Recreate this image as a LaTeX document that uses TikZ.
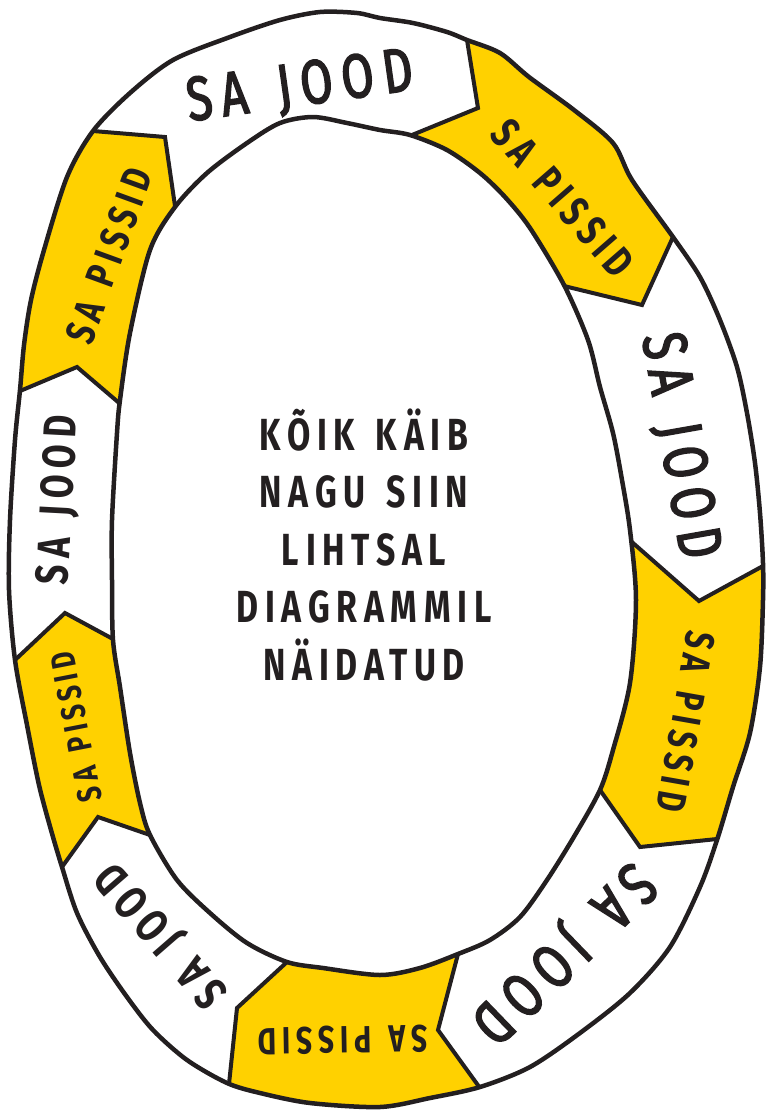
\documentclass[tikz,border=0pt]{standalone}
\usepackage{fontspec}
\newfontfamily\handfont{Fira Sans}[FakeStretch=0.75, LetterSpace=15, WordSpace=1.4]
\newfontfamily\handfontthick{Fira Sans}[FakeStretch=0.75, LetterSpace=15, WordSpace=1.4, FakeBold=2.5]
\usetikzlibrary{calc}
\definecolor{pissyellow}{RGB}{255,209,0}
\definecolor{inkblack}{RGB}{35,31,32}

\begin{document}
\begin{tikzpicture}[
  x=1pt, y=-1pt,
  outline/.style={draw=inkblack, line width=4.5pt, line join=round},
  cut/.style={draw=inkblack, line width=4pt, line join=miter},
  ringlabel/.style 2 args={font=#2\fontsize{#1}{#1}\selectfont,
    text=inkblack, inner sep=0pt},
  centreline/.style={font=\handfont\bfseries\fontsize{45}{45}\selectfont,
    text=inkblack, inner sep=0pt, anchor=base}
]
  \useasboundingbox (0,0) rectangle (766,1112);

  % Ring edges
  \def\outerring{plot[smooth cycle, tension=0.5] coordinates {
    (320,12) (357,13) (380,18) (413,23) (447,32) (467,40) (500,53)
    (529,77) (574,110) (613,143) (632,180) (673,237) (700,277) (720,320)
    (737,367) (747,413) (755,463) (760,513) (763,563) (763,600) (760,667)
    (750,733) (733,787) (717,840) (700,887) (670,947) (630,993) (580,1033)
    (530,1067) (480,1087) (430,1098) (380,1107) (310,1103) (260,1093)
    (227,1083) (187,1060) (153,1030) (127,997) (100,957) (77,913) (62,867)
    (51,830) (39,785) (27,725) (15,660) (9,590) (10,520) (15,440) (20,390)
    (24,345) (31,300) (44,250) (67,177) (93,131) (130,93) (173,60) (230,37)
    (280,20)}}
  \def\innerring{plot[smooth cycle, tension=0.5] coordinates {
    (280,123) (313,117) (347,123) (380,130) (410,135) (447,150) (480,173)
    (505,197) (530,228) (564,285) (588,340) (600,387) (613,433) (622,480)
    (630,530) (636,600) (630,683) (613,750) (600,790) (575,835) (547,880)
    (520,917) (490,940) (458,954) (420,968) (380,975) (323,968) (287,962)
    (247,943) (210,913) (177,880) (150,835) (140,803) (130,753) (120,687)
    (113,640) (112,580) (112,520) (117,433) (120,400) (130,333) (150,250)
    (175,207) (207,173) (247,143)}}

  % Chevron cuts: outer end, tip, inner end
  \coordinate (o1) at (93,131);   \coordinate (t1) at (165,137);  \coordinate (i1) at (175,206);
  \coordinate (o2) at (467,40);   \coordinate (t2) at (478,108);  \coordinate (i2) at (412,135);
  \coordinate (o3) at (673,237);  \coordinate (t3) at (642,305);  \coordinate (i3) at (564,286);
  \coordinate (o4) at (763,566);  \coordinate (t4) at (699,601);  \coordinate (i4) at (633,543);
  \coordinate (o5) at (717,839);  \coordinate (t5) at (640,847);  \coordinate (i5) at (600,790);
  \coordinate (o6) at (480,1088); \coordinate (t6) at (438,1030); \coordinate (i6) at (458,954);
  \coordinate (o7) at (229,1084); \coordinate (t7) at (237,1008); \coordinate (i7) at (287,962);
  \coordinate (o8) at (62,867);   \coordinate (t8) at (98,817);   \coordinate (i8) at (150,835);
  \coordinate (o9) at (15,660);   \coordinate (t9) at (65,613);   \coordinate (i9) at (113,639);
  \coordinate (o10) at (20,391);  \coordinate (t10) at (77,367);  \coordinate (i10) at (118,402);
  \foreach \i in {1,...,10} {
    \coordinate (ox\i) at ($(t\i)!3!(o\i)$);
    \coordinate (ix\i) at ($(t\i)!1.8!(i\i)$);
  }

  \begin{scope}[even odd rule]
    \clip \outerring \innerring;
    \fill[white] (0,0) rectangle (766,1112);
    % Yellow segments
    \fill[pissyellow] (ox2) -- (t2) -- (ix2) -- (ix3) -- (t3) -- (ox3) -- (900,-200) -- cycle;
    \fill[pissyellow] (ox4) -- (t4) -- (ix4) -- (ix5) -- (t5) -- (ox5) -- (1000,650) -- cycle;
    \fill[pissyellow] (ox6) -- (t6) -- (ix6) -- (ix7) -- (t7) -- (ox7) -- (380,1400) -- cycle;
    \fill[pissyellow] (ox8) -- (t8) -- (ix8) -- (ix9) -- (t9) -- (ox9) -- (-200,800) -- cycle;
    \fill[pissyellow] (ox10) -- (t10) -- (ix10) -- (ix1) -- (t1) -- (ox1) -- (-200,250) -- cycle;
    \foreach \i in {1,...,10}
      \draw[cut] (ox\i) -- (t\i) -- (ix\i);
  \end{scope}

  \draw[outline] \outerring;
  \draw[outline] \innerring;

  % Ring labels
  \node[ringlabel={62}{\handfontthick}, rotate=8]      (jood1)   at (300,88)   {SA JOOD};
  \node[ringlabel={43}{\handfont\bfseries}, rotate=-49]  (pissid1) at (563,198)  {SA PISSID};
  \node[ringlabel={62}{\handfontthick}, rotate=-80]    (jood2)   at (679,446)  {SA JOOD};
  \node[ringlabel={41}{\handfont\bfseries}, rotate=-100] (pissid2) at (686,722)  {SA PISSID};
  \node[ringlabel={62}{\handfontthick}, rotate=-136]   (jood3)   at (562,952)  {SA JOOD};
  \node[ringlabel={38}{\handfont\bfseries}, rotate=181]  (pissid3) at (343,1040) {SA PISSID};
  \node[ringlabel={47}{\handfont\bfseries}, rotate=131]  (jood4)   at (163,934)  {SA JOOD};
  \node[ringlabel={34}{\handfont\bfseries}, rotate=101]  (pissid4) at (76,727)   {SA PISSID};
  \node[ringlabel={46}{\handfont\bfseries}, rotate=87]   (jood5)   at (60,500)   {SA JOOD};
  \node[ringlabel={41}{\handfont\bfseries}, rotate=70]   (pissid5) at (109,256)  {SA PISSID};

  % Centre text
  \foreach \txt [count=\i] in {KÕIK KÄIB, NAGU SIIN, LIHTSAL, DIAGRAMMIL, NÄIDATUD}
    \node[centreline] (line\i) at (364,{392.5+57.5*\i}) {\txt};
\end{tikzpicture}
\end{document}
